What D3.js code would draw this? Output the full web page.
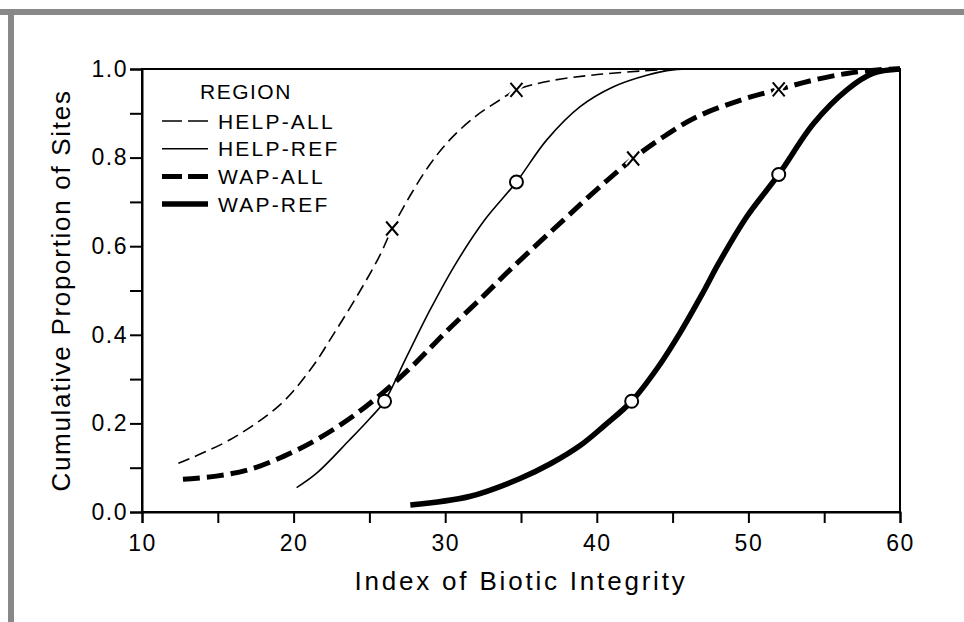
<!DOCTYPE html>
<html>
<head>
<meta charset="utf-8">
<script src="https://cdn.jsdelivr.net/npm/d3@7"></script>
<style>
  body { margin: 0; background: #fff; }
  svg text { font-family: "Liberation Sans", Arial, sans-serif; fill: #000; }
</style>
</head>
<body>
<div id="chart"></div>
<script>
// cumulative curves, [IBI, proportion]
const helpAll = [[12.4, 0.11], [15.8, 0.163], [19.1, 0.242], [21.1, 0.321], [22.7, 0.405], [24.4, 0.5],
    [25.7, 0.58], [26.5, 0.64], [27.7, 0.715], [29.0, 0.785], [30.3, 0.84], [32.0, 0.893], [33.6, 0.93],
    [34.7, 0.953], [36.9, 0.973], [40.2, 0.988], [44.2, 0.998], [46.0, 1.0]];
const helpRef = [[20.2, 0.055], [21.5, 0.087], [23.7, 0.163], [25.0, 0.21], [26.0, 0.25], [27.35, 0.343],
    [29.0, 0.456], [30.65, 0.558], [32.6, 0.659], [34.7, 0.745], [36.7, 0.84], [38.9, 0.915], [41.1, 0.96],
    [43.3, 0.986], [45.0, 0.998], [47.0, 1.0]];
const wapAll = [[12.7, 0.074], [14.9, 0.081], [17.1, 0.096], [19.3, 0.125], [21.5, 0.163], [23.7, 0.211],
    [25.7, 0.264], [28.0, 0.335], [30.0, 0.405], [32.3, 0.48], [34.5, 0.554], [37.8, 0.659], [40.2, 0.734],
    [42.4, 0.798], [44.4, 0.847], [46.6, 0.892], [49.5, 0.93], [52.0, 0.954], [54.3, 0.975], [56.5, 0.99],
    [58.5, 0.998], [60.0, 1.0]];
const wapRef = [[27.7, 0.016], [31.6, 0.035], [34.9, 0.075], [37.0, 0.11], [38.9, 0.15], [40.5, 0.195],
    [42.3, 0.25], [44.0, 0.325], [45.5, 0.405], [47.0, 0.495], [48.1, 0.565], [49.9, 0.667], [52.0, 0.762],
    [54.3, 0.877], [56.5, 0.953], [58.2, 0.99], [60.0, 1.0]];

// quartile markers: circles on REF curves, X on ALL curves
const refCircles = [[26.0, 0.25], [34.7, 0.745], [42.3, 0.25], [52.0, 0.762]];
const allCrosses = [[26.5, 0.64], [34.7, 0.953], [42.4, 0.798], [52.0, 0.954]];

const legendTitle = "REGION";
const legendLabels = ["HELP-ALL", "HELP-REF", "WAP-ALL", "WAP-REF"];
const xTicks = [10, 15, 20, 25, 30, 35, 40, 45, 50, 55, 60];
const yTicks = [0, 0.1, 0.2, 0.3, 0.4, 0.5, 0.6, 0.7, 0.8, 0.9, 1.0];
const xTitle = "Index of Biotic Integrity";
const yTitle = "Cumulative Proportion of Sites";

const W = 964, H = 622;
const margin = {top: 69, right: 64, bottom: 110, left: 142};
const width = W - margin.left - margin.right;
const height = H - margin.top - margin.bottom;

const svg = d3.select("#chart").append("svg")
    .attr("width", W)
    .attr("height", H);

svg.append("rect").attr("width", W).attr("height", H).attr("fill", "#fff");
// grey page frame (top and left)
svg.append("rect").attr("x", 0).attr("y", 9).attr("width", W).attr("height", 6).attr("fill", "#888");
svg.append("rect").attr("x", 8).attr("y", 9).attr("width", 6).attr("height", H - 9).attr("fill", "#888");

const g = svg.append("g").attr("transform", "translate(" + margin.left + "," + margin.top + ")");

const x = d3.scaleLinear().domain([10, 60]).range([0, width]);
const y = d3.scaleLinear().domain([0, 1]).range([height, 0]);

// box
g.append("rect")
    .attr("width", width).attr("height", height)
    .attr("fill", "none").attr("stroke", "#000").attr("stroke-width", 2);

const xAxis = g.append("g")
    .attr("transform", "translate(0," + height + ")")
    .call(d3.axisBottom(x).tickValues(xTicks).tickSize(11).tickPadding(12)
        .tickFormat(function(d) { return d % 10 === 0 ? d : ""; }));

const yAxis = g.append("g")
    .call(d3.axisLeft(y).tickValues(yTicks).tickSize(12).tickPadding(2)
        .tickFormat(function(d, i) { return i % 2 === 0 ? d3.format(".1f")(d) : ""; }));

[xAxis, yAxis].forEach(function(ax) {
    ax.select(".domain").attr("stroke-width", 2);
    ax.selectAll(".tick line").attr("stroke-width", 2);
    ax.selectAll(".tick text")
        .attr("font-size", 23)
        .attr("letter-spacing", 1.5)
        .style("font-family", "'Liberation Sans', Arial, sans-serif");
});

// axis titles
g.append("text")
    .attr("x", width / 2).attr("y", height + 78)
    .attr("text-anchor", "middle")
    .attr("font-size", 26)
    .attr("letter-spacing", 2.8)
    .text(xTitle);

g.append("text")
    .attr("transform", "translate(" + (-72) + "," + (height / 2) + ") rotate(-90)")
    .attr("text-anchor", "middle")
    .attr("font-size", 26)
    .attr("letter-spacing", 1.7)
    .text(yTitle);

const line = d3.line()
    .x(function(d) { return x(d[0]); })
    .y(function(d) { return y(d[1]); })
    .curve(d3.curveCatmullRom.alpha(0.5));

const series = [
    {data: helpAll, width: 1.6, dash: "12,6"},
    {data: helpRef, width: 1.6, dash: null},
    {data: wapAll, width: 5, dash: "17,7"},
    {data: wapRef, width: 5.5, dash: null}
];

series.forEach(function(s) {
    g.append("path")
        .datum(s.data)
        .attr("d", line)
        .attr("fill", "none")
        .attr("stroke", "#000")
        .attr("stroke-width", s.width)
        .attr("stroke-dasharray", s.dash);
});

g.selectAll("circle.q")
    .data(refCircles)
    .enter().append("circle")
    .attr("class", "q")
    .attr("cx", function(d) { return x(d[0]); })
    .attr("cy", function(d) { return y(d[1]); })
    .attr("r", 6.5)
    .attr("fill", "#fff")
    .attr("stroke", "#000")
    .attr("stroke-width", 2);

// X marks drawn as two strokes, with a white halo that breaks the curve
const cross = g.selectAll("g.cross")
    .data(allCrosses)
    .enter().append("g")
    .attr("class", "cross")
    .attr("transform", function(d) { return "translate(" + x(d[0]) + "," + y(d[1]) + ")"; });

[["#fff", 6], ["#000", 2]].forEach(function(st) {
    cross.append("path")
        .attr("d", "M-6,-7L6,7M-6,7L6,-7")
        .attr("fill", "none")
        .attr("stroke", st[0])
        .attr("stroke-width", st[1]);
});

// legend
const legend = g.append("g").attr("transform", "translate(20,0)");
legend.append("text")
    .attr("x", 38).attr("y", 30)
    .attr("font-size", 21)
    .attr("letter-spacing", 1.5)
    .text(legendTitle);

const legendStyles = [
    {width: 1.6, dash: "20,6"},
    {width: 1.6, dash: null},
    {width: 5, dash: "20,6"},
    {width: 5.5, dash: null}
];

legendLabels.forEach(function(label, i) {
    const ly = 52 + i * 27.7;
    legend.append("line")
        .attr("x1", 0).attr("x2", 46)
        .attr("y1", ly).attr("y2", ly)
        .attr("stroke", "#000")
        .attr("stroke-width", legendStyles[i].width)
        .attr("stroke-dasharray", legendStyles[i].dash);
    legend.append("text")
        .attr("x", 56).attr("y", ly)
        .attr("dy", "0.36em")
        .attr("font-size", 21)
        .attr("letter-spacing", 2.2)
        .text(label);
});
</script>
</body>
</html>
